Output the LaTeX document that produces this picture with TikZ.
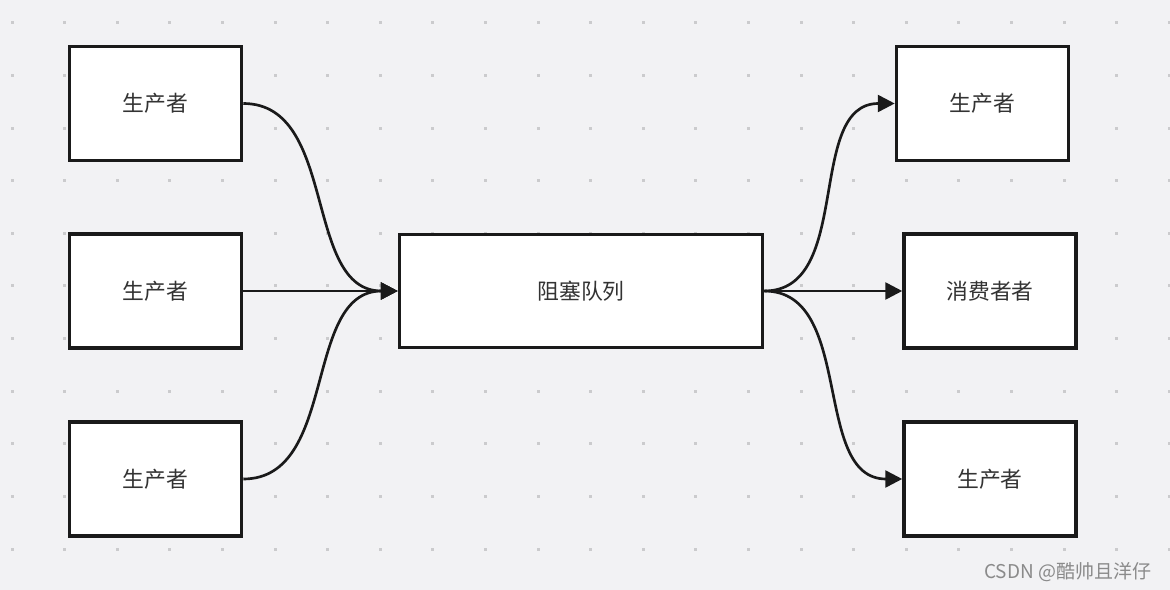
\documentclass[tikz,border=0pt]{standalone}
\usepackage{fontspec}
\setmainfont{Noto Sans CJK SC}
\usepackage{tikz}
\usetikzlibrary{arrows.meta}
\definecolor{bg}{HTML}{F2F2F4}
\definecolor{dot}{HTML}{CBCBCD}
\definecolor{ink}{HTML}{1A1A1A}
\definecolor{txt}{HTML}{333333}
\definecolor{mark}{HTML}{8A8A8A}

\begin{document}
\begin{tikzpicture}[x=0.025cm,y=-0.025cm,
  box/.style={draw=ink,fill=white,line width=2.5pt,minimum width=4.3cm,minimum height=2.85cm,
    text=txt,font=\fontsize{15.5}{18}\selectfont},
  link/.style={draw=ink,line width=1.9pt,-{Triangle[length=12pt,width=12pt]}}]
\fill[bg] (0, 0) rectangle (1170, 590);
\useasboundingbox (0, 0) rectangle (1170, 590);
\foreach \i in {0,...,22}
  \foreach \j in {0,...,10}
    \fill[dot] ({12+52.6*\i-1.5}, {23+52.6*\j-1.5}) rectangle +(3, 3);
\node[box] (p1) at (155.5, 103.5) {生产者};
\node[box] (p2) at (155.5, 291) {生产者};
\node[box] (p3) at (155.5, 479) {生产者};
\node[box,minimum width=9.075cm,minimum height=2.825cm] (q) at (581, 291) {阻塞队列};
\node[box] (c1) at (982.5, 103.5) {生产者};
\node[box] (c2) at (990, 291) {消费者者};
\node[box] (c3) at (990, 479) {生产者};
\draw [link] (p1.east) to[out=0,in=180] (q.west);
\draw [link] (p2.east) -- (q.west);
\draw [link] (p3.east) to[out=0,in=180] (q.west);
\draw [link] (q.east) to[out=0,in=180] (c1.west);
\draw [link] (q.east) -- (c2.west);
\draw [link] (q.east) to[out=0,in=180] (c3.west);
\node[anchor=east,text=mark,font=\fontsize{13.5}{15}\selectfont] (wm) at (1156, 572) {CSDN @酷帅且洋仔};
\end{tikzpicture}
\end{document}
